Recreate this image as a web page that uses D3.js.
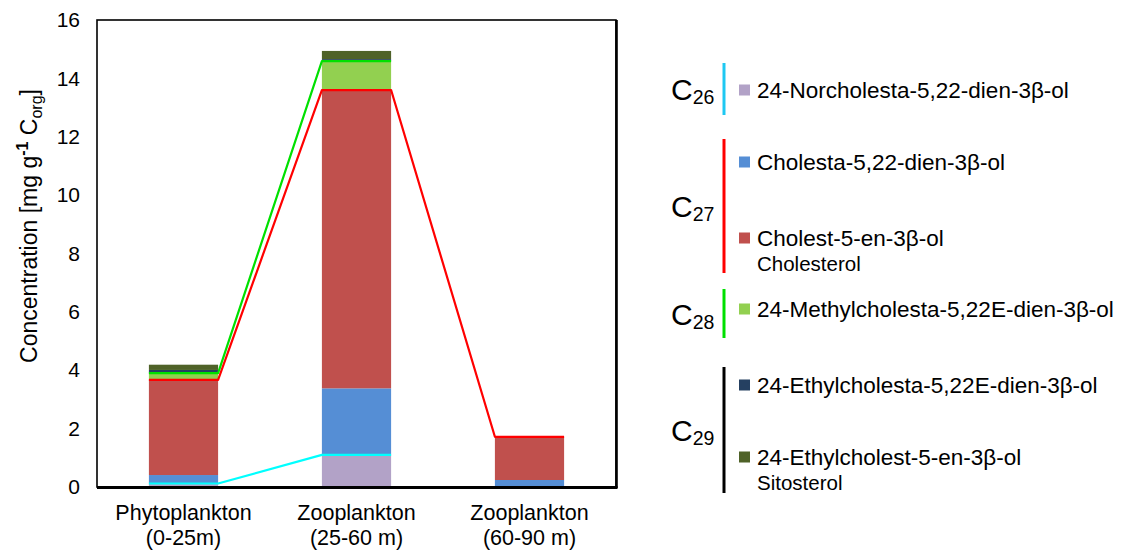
<!DOCTYPE html>
<html>
<head>
<meta charset="utf-8">
<script src="https://cdn.jsdelivr.net/npm/d3@7"></script>
<style>
  html, body { margin: 0; padding: 0; background: #fff; }
  svg text { font-family: "Liberation Sans", Arial, sans-serif; fill: #000; }
</style>
</head>
<body>
<svg id="chart" width="1135" height="550"></svg>
<script>
// Sample groups (x categories), two label lines each
const categoryNames = ["Phytoplankton", "Zooplankton", "Zooplankton"];
const categoryDepths = ["(0-25m)", "(25-60 m)", "(60-90 m)"];

// Sterol concentrations, mg g-1 Corg
const norcholestadienol    = [0.12, 1.10, 0.00]; // C26
const cholestadienol       = [0.29, 2.28, 0.24]; // C27
const cholesterol          = [3.26, 10.22, 1.48]; // C27
const methylcholestadienol = [0.23, 0.99, 0.00]; // C28
const ethylcholestadienol  = [0.11, 0.07, 0.00]; // C29
const sitosterol           = [0.18, 0.28, 0.00]; // C29

const yTicks = [0, 2, 4, 6, 8, 10, 12, 14, 16];

const seriesKeys = ["nor", "dien27", "chol", "methyl", "ethyl", "sito"];
const seriesColors = ["#b2a2c7", "#558ed5", "#c0504d", "#92d050", "#254061", "#4f6228"];
const seriesLabels = [
  ["24-Norcholesta-5,22-dien-3β-ol"],
  ["Cholesta-5,22-dien-3β-ol"],
  ["Cholest-5-en-3β-ol", "Cholesterol"],
  ["24-Methylcholesta-5,22E-dien-3β-ol"],
  ["24-Ethylcholesta-5,22E-dien-3β-ol"],
  ["24-Ethylcholest-5-en-3β-ol", "Sitosterol"]
];

// Carbon-number groups: which series belong, bracket colour, line colour
const carbonGroups = [
  { num: "26", members: ["nor"], bracket: "#1ec8f2", line: "#00ffff" },
  { num: "27", members: ["dien27", "chol"], bracket: "#ff0000", line: "#ff0000" },
  { num: "28", members: ["methyl"], bracket: "#00e000", line: "#00e000" },
  { num: "29", members: ["ethyl", "sito"], bracket: "#000000", line: null }
];

const table = categoryNames.map((n, i) => ({
  idx: i,
  nor: norcholestadienol[i],
  dien27: cholestadienol[i],
  chol: cholesterol[i],
  methyl: methylcholestadienol[i],
  ethyl: ethylcholestadienol[i],
  sito: sitosterol[i]
}));

const svg = d3.select("#chart");
const m = { left: 97, top: 20, right: 616, bottom: 487 };

const x = d3.scaleBand().domain(table.map(d => d.idx)).range([m.left, m.right]).paddingInner(0.6).paddingOuter(0.3);
const y = d3.scaleLinear().domain([0, 16]).range([m.bottom, m.top]);

const stacked = d3.stack().keys(seriesKeys)(table);

// Stacked bars
svg.append("g").selectAll("g").data(stacked).join("g")
  .attr("fill", (s, i) => seriesColors[i])
  .selectAll("rect").data(s => s).join("rect")
  .attr("x", d => x(d.data.idx))
  .attr("width", x.bandwidth())
  .attr("y", d => y(d[1]))
  .attr("height", d => y(d[0]) - y(d[1]));

// Lines tracing the cumulative top of each carbon group across the bars
const line = d3.line().x(p => p[0]).y(p => p[1]);
carbonGroups.filter(g => g.line).forEach(g => {
  const lastKey = g.members[g.members.length - 1];
  const layer = stacked[seriesKeys.indexOf(lastKey)];
  const pts = [];
  layer.forEach(d => {
    const amount = d3.sum(g.members, k => d.data[k]);
    if (amount > 0) {
      pts.push([x(d.data.idx), y(d[1])]);
      pts.push([x(d.data.idx) + x.bandwidth(), y(d[1])]);
    }
  });
  svg.append("path").attr("d", line(pts))
    .attr("fill", "none").attr("stroke", g.line).attr("stroke-width", 2.2)
    .attr("stroke-linejoin", "round");
});

// Frame
svg.append("rect").attr("x", m.left).attr("y", m.top)
  .attr("width", m.right - m.left).attr("height", m.bottom - m.top)
  .attr("fill", "none").attr("stroke", "#000").attr("stroke-width", 1.6);
svg.append("line").attr("x1", m.left).attr("x2", m.right + 1.5)
  .attr("y1", m.bottom + 0.5).attr("y2", m.bottom + 0.5)
  .attr("stroke", "#000").attr("stroke-width", 3);
svg.append("line").attr("x1", m.right + 0.5).attr("x2", m.right + 0.5)
  .attr("y1", m.top).attr("y2", m.bottom + 1)
  .attr("stroke", "#000").attr("stroke-width", 2.6);

// Y axis labels (no tick marks)
const yAxis = d3.axisLeft(y).tickValues(yTicks).tickSize(0).tickPadding(17).tickFormat(d3.format("d"));
const yg = svg.append("g").attr("transform", `translate(${m.left},0)`).call(yAxis);
yg.select(".domain").remove();
yg.selectAll("text").attr("font-size", 21).attr("font-family", "Liberation Sans, Arial, sans-serif").attr("fill", "#000");

// Y axis title
const yt = svg.append("text").attr("transform", "translate(37,226) rotate(-90)")
  .attr("text-anchor", "middle").attr("font-size", 23);
yt.append("tspan").text("Concentration [mg g");
yt.append("tspan").attr("dy", -9).attr("font-size", 16).attr("font-weight", "bold").text("-1");
yt.append("tspan").attr("dy", 9).text(" C");
yt.append("tspan").attr("dy", 5).attr("font-size", 16).text("org");
yt.append("tspan").attr("dy", -5).text("]");

// X axis category labels
const xl = svg.append("g").selectAll("text").data(table).join("text")
  .attr("text-anchor", "middle").attr("font-size", 21.5)
  .attr("x", d => x(d.idx) + x.bandwidth() / 2);
xl.append("tspan").attr("y", 520).attr("x", d => x(d.idx) + x.bandwidth() / 2).text(d => categoryNames[d.idx]);
xl.append("tspan").attr("y", 545).attr("x", d => x(d.idx) + x.bandwidth() / 2).text(d => categoryDepths[d.idx]);

// Legend
const legendRows = { nor: 90, dien27: 162, chol: 238, methyl: 309, ethyl: 385, sito: 457 };
const groupSpans = { "26": [63, 115], "27": [139, 273], "28": [289, 338], "29": [367, 493] };
const lg = svg.append("g");
carbonGroups.forEach(g => {
  const [y0, y1] = groupSpans[g.num];
  lg.append("line").attr("x1", 724).attr("x2", 724).attr("y1", y0).attr("y2", y1)
    .attr("stroke", g.bracket).attr("stroke-width", 3);
  const t = lg.append("text").attr("x", 671).attr("y", (y0 + y1) / 2 + 11).attr("font-size", 30);
  t.append("tspan").text("C");
  t.append("tspan").attr("dy", 4).attr("font-size", 19.5).text(g.num);
});
seriesKeys.forEach((k, i) => {
  const cy = legendRows[k];
  lg.append("rect").attr("x", 739).attr("y", cy - 5.5).attr("width", 11).attr("height", 11)
    .attr("fill", seriesColors[i]);
  lg.append("text").attr("x", 757).attr("y", cy + 8).attr("font-size", 22.5).text(seriesLabels[i][0]);
  if (seriesLabels[i][1]) {
    lg.append("text").attr("x", 757).attr("y", cy + 33).attr("font-size", 20.5).text(seriesLabels[i][1]);
  }
});
</script>
</body>
</html>
